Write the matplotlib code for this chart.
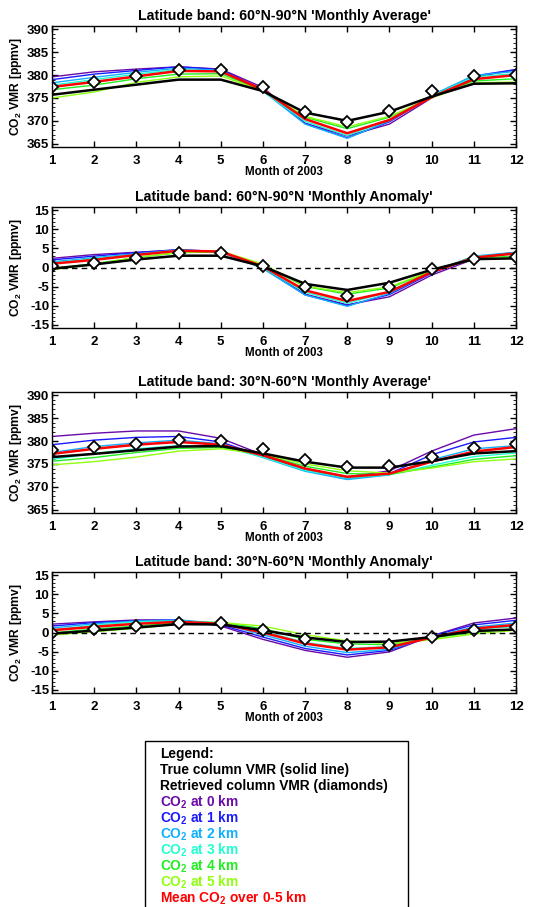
import numpy as np
import matplotlib
matplotlib.use('Agg')
import matplotlib.pyplot as plt
from matplotlib.patches import Rectangle
from matplotlib.ticker import MultipleLocator

plt.rcParams['font.family'] = ['Liberation Sans', 'DejaVu Sans']
plt.rcParams['font.weight'] = 'bold'
plt.rcParams['axes.unicode_minus'] = False
plt.rcParams['mathtext.fontset'] = 'custom'
plt.rcParams['mathtext.rm'] = 'Liberation Sans:bold'
plt.rcParams['mathtext.it'] = 'Liberation Sans:bold'
plt.rcParams['mathtext.bf'] = 'Liberation Sans:bold'

months = np.arange(1, 13)
levels = ['0 km', '1 km', '2 km', '3 km', '4 km', '5 km']
level_colors = ['#6a0aa8', '#1a1aff', '#10b0ff', '#20ffd0', '#20ee20', '#90ff10']

# 60N-90N monthly average
avg_6090_true = [375.7, 376.8, 377.9, 379.0, 379.0, 376.5, 371.8, 370.0, 372.0, 375.3, 378.1, 378.2]
avg_6090_retr = [377.5, 378.5, 379.7, 381.0, 381.0, 377.5, 372.0, 369.8, 372.2, 376.5, 379.7, 380.0]
avg_6090_mean = [377.4, 378.5, 379.7, 380.9, 380.8, 376.8, 370.4, 367.3, 370.2, 375.2, 379.1, 380.0]
avg_6090_lev = [
    [379.6, 380.7, 381.3, 381.8, 381.3, 377.3, 369.5, 366.7, 369.3, 375.0, 379.5, 381.2],
    [379.0, 380.2, 381.0, 381.8, 381.2, 376.8, 369.4, 366.3, 369.8, 375.4, 379.8, 381.2],
    [378.3, 379.5, 380.6, 381.5, 381.0, 376.5, 369.3, 366.2, 370.0, 375.6, 379.9, 380.8],
    [377.8, 379.0, 380.2, 381.2, 380.8, 376.5, 369.9, 366.8, 370.2, 375.4, 379.6, 380.3],
    [376.8, 377.8, 379.2, 380.2, 380.3, 376.6, 370.8, 368.3, 370.8, 375.1, 378.7, 379.2],
    [375.0, 376.3, 378.4, 379.6, 379.8, 376.6, 371.0, 368.7, 371.0, 375.0, 378.3, 378.5],
]

# 60N-90N monthly anomaly
anom_6090_true = [-0.3, 0.8, 2.1, 3.1, 3.1, 0.3, -4.3, -5.9, -4.0, -0.6, 2.2, 2.4]
anom_6090_retr = [0.3, 1.3, 2.6, 3.9, 3.9, 0.5, -5.2, -7.5, -5.1, -0.5, 2.3, 2.8]
anom_6090_mean = [1.0, 2.0, 3.3, 4.4, 4.2, 0.3, -6.0, -8.8, -6.4, -1.2, 2.6, 3.7]
anom_6090_lev = [
    [2.4, 3.4, 4.0, 4.6, 4.0, 0.0, -7.0, -9.8, -7.7, -2.0, 2.2, 4.0],
    [2.0, 3.0, 3.9, 4.7, 4.2, -0.1, -7.2, -10.0, -7.1, -1.5, 2.7, 4.0],
    [1.5, 2.6, 3.6, 4.6, 4.2, -0.3, -7.2, -10.2, -6.8, -1.2, 3.0, 4.0],
    [1.2, 2.3, 3.4, 4.5, 4.2, 0.0, -6.5, -9.4, -6.4, -1.1, 2.9, 3.6],
    [-0.2, 1.0, 2.6, 3.9, 4.1, 0.6, -5.0, -7.0, -5.4, -1.0, 2.4, 3.0],
    [-0.6, 0.8, 2.7, 3.9, 4.3, 0.9, -4.9, -6.6, -5.1, -0.9, 2.2, 2.6],
]

# 30N-60N monthly average
avg_3060_true = [376.5, 377.2, 378.0, 378.8, 378.9, 377.3, 375.5, 374.2, 374.2, 375.6, 377.3, 377.8]
avg_3060_retr = [378.0, 378.6, 379.4, 380.2, 380.0, 378.3, 375.9, 374.3, 374.6, 376.6, 378.4, 379.3]
avg_3060_mean = [377.2, 378.3, 379.2, 379.8, 379.2, 376.9, 374.0, 372.2, 372.9, 375.5, 377.7, 378.7]
avg_3060_lev = [
    [381.0, 381.7, 382.2, 382.2, 380.6, 377.0, 374.0, 372.2, 373.5, 377.8, 381.3, 382.7],
    [379.2, 380.2, 380.8, 381.0, 379.8, 376.7, 373.6, 371.8, 372.9, 377.0, 379.8, 380.8],
    [377.5, 378.8, 379.6, 380.2, 379.4, 376.4, 373.4, 371.6, 372.6, 375.9, 378.3, 379.0],
    [376.0, 377.3, 378.3, 379.0, 378.8, 376.5, 373.6, 371.9, 372.7, 374.7, 376.6, 377.4],
    [375.6, 376.4, 377.5, 378.4, 378.6, 377.0, 374.5, 372.9, 372.7, 374.3, 376.0, 376.8],
    [374.8, 375.5, 376.5, 377.8, 378.3, 377.2, 375.0, 373.5, 373.0, 374.1, 375.5, 376.1],
]

# 30N-60N monthly anomaly
anom_3060_true = [-0.3, 0.5, 1.3, 2.2, 2.1, 0.6, -1.3, -2.5, -2.4, -1.2, 0.4, 0.8]
anom_3060_retr = [0.0, 0.8, 1.7, 2.5, 2.4, 0.7, -1.6, -3.4, -3.2, -1.2, 0.6, 1.5]
anom_3060_mean = [0.6, 1.5, 2.3, 2.8, 2.3, 0.0, -2.9, -4.5, -3.9, -1.3, 1.0, 2.0]
anom_3060_lev = [
    [2.2, 2.8, 3.3, 3.3, 1.7, -1.8, -4.7, -6.5, -5.1, -0.9, 2.5, 3.8],
    [1.7, 2.6, 3.1, 3.3, 2.0, -1.2, -4.2, -5.9, -4.7, -0.9, 2.0, 3.2],
    [1.2, 2.3, 3.0, 3.3, 2.4, -0.6, -3.6, -5.3, -4.4, -1.1, 1.4, 2.5],
    [0.7, 1.9, 2.8, 3.0, 2.5, 0.3, -2.6, -4.2, -3.7, -1.3, 0.8, 1.6],
    [-0.1, 0.9, 1.7, 2.6, 2.7, 1.0, -1.8, -3.0, -3.2, -1.5, 0.0, 1.0],
    [-0.7, 0.2, 1.1, 2.2, 2.6, 1.7, -0.6, -2.2, -2.9, -1.9, -0.4, 0.6],
]

panels = [
    ("Latitude band: 60°N-90°N 'Monthly Average'", avg_6090_lev, avg_6090_mean, avg_6090_true, avg_6090_retr, False),
    ("Latitude band: 60°N-90°N 'Monthly Anomaly'", anom_6090_lev, anom_6090_mean, anom_6090_true, anom_6090_retr, True),
    ("Latitude band: 30°N-60°N 'Monthly Average'", avg_3060_lev, avg_3060_mean, avg_3060_true, avg_3060_retr, False),
    ("Latitude band: 30°N-60°N 'Monthly Anomaly'", anom_3060_lev, anom_3060_mean, anom_3060_true, anom_3060_retr, True),
]

W, H = 540, 907
fig = plt.figure(figsize=(W / 100, H / 100), dpi=100)
tops = [26, 207, 392, 572]
ax_h = 121
left, right = 52, 516

for (title, lev, mean, true, retr, is_anom), top in zip(panels, tops):
    ax = fig.add_axes([left / W, 1 - (top + ax_h) / H, (right - left) / W, ax_h / H])
    for vals, c in zip(lev, level_colors):
        ax.plot(months, vals, color=c, lw=1.0)
    ax.plot(months, mean, color='red', lw=1.8)
    ax.plot(months, true, color='black', lw=1.8)
    ax.plot(months, retr, linestyle='none', marker='D', ms=6, mfc='white',
            mec='black', mew=1.3)
    if is_anom:
        ax.axhline(0, color='black', lw=1.0, ls=(0, (4, 3)))
        ax.set_ylim(-15.9, 15.9)
    else:
        ax.set_ylim(364.3, 390.7)
    ax.yaxis.set_major_locator(MultipleLocator(5))
    ax.yaxis.set_minor_locator(MultipleLocator(1))
    ax.set_xlim(1, 12)
    ax.set_xticks(months)
    ax.tick_params(direction='in', top=True, right=True, labelsize=9.5, width=1,
                   length=4)
    ax.tick_params(axis='x', pad=6)
    ax.tick_params(axis='y', pad=2)
    ax.tick_params(which='minor', direction='in', right=True, length=2)
    ax.set_title(title, fontsize=10.2, fontweight='bold', pad=4)
    ax.set_xlabel('Month of 2003', fontsize=8.3, fontweight='bold', labelpad=-1)
    ax.set_ylabel('CO$_2$ VMR [ppmv]', fontsize=8.7, fontweight='bold')
    ax.yaxis.set_label_coords((24 - left) / (right - left), 0.5)
    for s in ax.spines.values():
        s.set_linewidth(1.0)

# legend box
bx0, by0 = 145, 741
box = Rectangle((bx0 / W, -0.02), (408 - bx0) / W, 0.02 + 1 - by0 / H,
                transform=fig.transFigure, fill=False, edgecolor='black', lw=1.0)
fig.add_artist(box)
legend_lines = [("Legend:", 'black'),
                ("True column VMR (solid line)", 'black'),
                ("Retrieved column VMR (diamonds)", 'black')]
legend_lines += [("CO$_2$ at " + l, c) for l, c in zip(levels, level_colors)]
legend_lines += [("Mean CO$_2$ over 0-5 km", 'red')]
for i, (txt, c) in enumerate(legend_lines):
    fig.text(160 / W, 1 - (754 + i * 16) / H, txt, color=c, fontsize=9.9,
             fontweight='bold', va='center', ha='left')

fig.savefig('out.png', dpi=100)
